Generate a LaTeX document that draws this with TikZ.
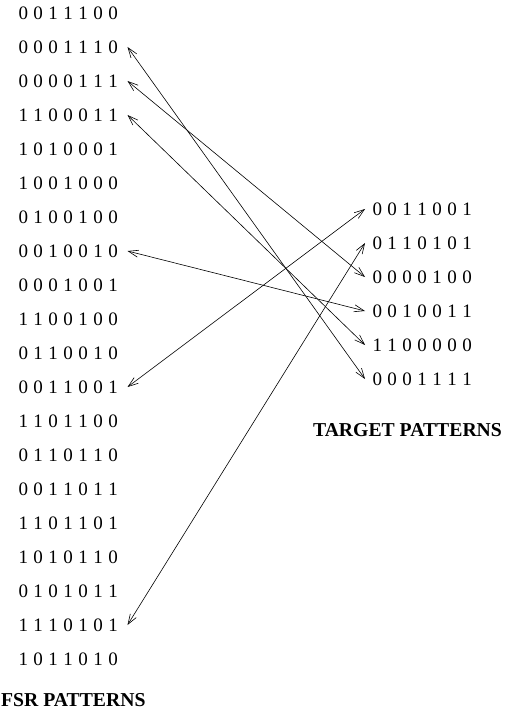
\documentclass[tikz,border=0pt]{standalone}
\usepackage{fontspec}
\setmainfont{Liberation Serif}
\usetikzlibrary{arrows.meta}
\makeatletter
% set a bit string with a fixed pitch per digit
\newcommand\bitrow[1]{\bitrow@#1\relax}
\def\bitrow@#1{\ifx\relax#1\else\makebox[15pt][l]{#1}\expandafter\bitrow@\fi}
\makeatother
\begin{document}
\begin{tikzpicture}[x=1pt,y=-1pt,
  pattern/.style={inner sep=0pt, font=\fontsize{19}{21}\selectfont},
  lfsr/.style={pattern, anchor=west, outer xsep=4pt},
  target/.style={pattern, anchor=west, outer xsep=7.5pt},
  heading/.style={inner sep=0pt, font=\fontsize{19.7}{22}\selectfont\bfseries},
  link/.style={line width=0.6pt,
    {Straight Barb[length=10pt,width=7pt]}-{Straight Barb[length=10pt,width=7pt]}}]
\useasboundingbox (0,0) rectangle (508,711);

% generated sequence
\foreach \b [count=\i from 0] in {0011100,0001110,0000111,1100011,1010001,
  1001000,0100100,0010010,0001001,1100100,0110010,0011001,1101100,0110110,
  0011011,1101101,1010110,0101011,1110101,1011010}
  \node[lfsr] (l\i) at (14.5,13+34*\i) {\expandafter\bitrow\expandafter{\b}};

% patterns to be reached
\foreach \b [count=\i from 0] in {0011001,0110101,0000100,0010011,1100000,0001111}
  \node[target] (t\i) at (365,209+34*\i) {\expandafter\bitrow\expandafter{\b}};

\node[heading, anchor=base] (tlabel) at (407.5,436) {TARGET PATTERNS};
\node[heading, anchor=base west] (llabel) at (1,706.5) {FSR PATTERNS};

% matched pairs
\draw[link] (l1.east) -- (t5.west);
\draw[link] (l2.east) -- (t2.west);
\draw[link] (l3.east) -- (t4.west);
\draw[link] (l7.east) -- (t3.west);
\draw[link] (l11.east) -- (t0.west);
\draw[link] (l18.east) -- (t1.west);
\end{tikzpicture}
\end{document}
